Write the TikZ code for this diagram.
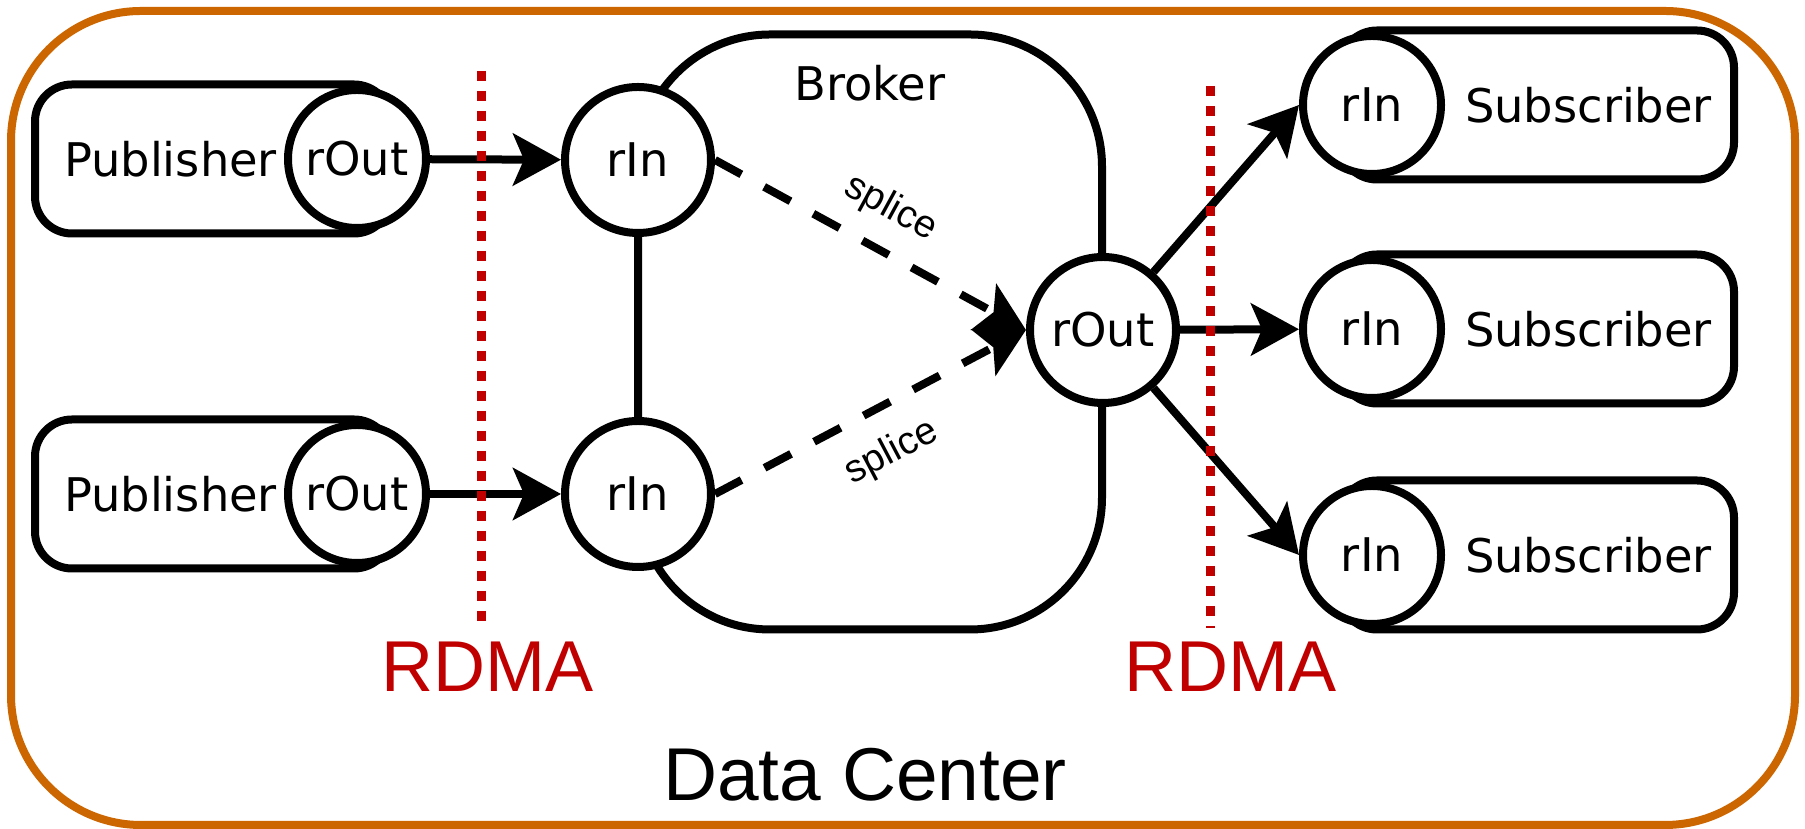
\documentclass[tikz,border=0pt]{standalone}
\usepackage{fontspec}
\setmainfont{DejaVu Sans}
\newfontfamily\arialfont{Liberation Sans}
\usetikzlibrary{positioning,arrows.meta}

\definecolor{dcorange}{HTML}{CC6600}
\definecolor{rdmared}{HTML}{C00000}

\begin{document}
\begin{tikzpicture} [
                x=0.1mm, y=-0.1mm,
                labelfont/.style={
                    font=\fontsize{13.2}{16}\selectfont
                },
                port/.style={
                    circle,
                    draw,
                    line width=0.8mm,
                    fill=white,
                    minimum size=13.8mm,
                    inner sep=0pt,
                    labelfont
                },
                bport/.style={
                    port,
                    minimum size=14.6mm
                },
                endbox/.style={
                    rectangle,
                    draw,
                    line width=0.8mm,
                    rounded corners=3.7mm,
                    minimum height=14.9mm,
                    inner ysep=0pt,
                    labelfont
                },
                link/.style={
                    line width=0.8mm,
                    -{Stealth[length=4.8mm, width=5.2mm, inset=1.1mm]}
                },
                splicelink/.style={
                    link,
                    dash pattern=on 3mm off 2.6mm
                },
                splicelbl/.style={
                    font=\arialfont\fontsize{11}{13}\selectfont
                },
                rdmaline/.style={
                    rdmared,
                    line width=0.9mm,
                    dash pattern=on 1mm off 1mm
                },
                rdmatext/.style={
                    rdmared,
                    font=\arialfont\fontsize{20.5}{24}\selectfont
                }
            ]

                \useasboundingbox (0,0) rectangle (1805,829);

                % data center frame
                \draw[dcorange, line width=0.8mm, rounded corners=13mm] (11,11) rectangle (1795,825);
                \node[font=\arialfont\fontsize{21.3}{25}\selectfont] (dc) at (865,775) {Data Center};

                % broker
                \node[draw, line width=0.8mm, rounded corners=13.2mm, minimum width=46.4mm, minimum height=59.5mm] (broker) at (870,332) {};
                \node[labelfont] (brokerlbl) at ([yshift=-5.3mm]broker.north) {Broker};

                % publishers and subscribers
                \node[endbox, text width=29.8mm, inner xsep=2.9mm, align=left]  (pub1)  at (213,159)    {Publisher};
                \node[endbox, text width=29.8mm, inner xsep=2.9mm, align=left]  (pub2)  at (213,494)    {Publisher};
                \node[endbox, text width=35mm, inner xsep=2.2mm, align=right]   (sub1)  at (1537,105)   {Subscriber};
                \node[endbox, text width=35mm, inner xsep=2.2mm, align=right]   (sub2)  at (1537,329)   {Subscriber};
                \node[endbox, text width=35mm, inner xsep=2.2mm, align=right]   (sub3)  at (1537,555)   {Subscriber};

                \node[port]     (p1out)     at (357,159)    {rOut};
                \node[port]     (p2out)     at (357,494)    {rOut};
                \node[bport]    (in1)       at (638,160)    {rIn};
                \node[bport]    (in2)       at (638,494)    {rIn};
                \node[bport]    (bout)      at (1103,330)   {rOut};
                \node[port]     (s1in)      at (1372,105)   {rIn};
                \node[port]     (s2in)      at (1372,329)   {rIn};
                \node[port]     (s3in)      at (1372,555)   {rIn};

                % connections
                \draw[link] (p1out) -- (in1);
                \draw[link] (p2out) -- (in2);
                \draw[splicelink] (in1.east) -- node[splicelbl, sloped, above=0.8mm] (splice1) {splice} (bout.west);
                \draw[splicelink] (in2.east) -- node[splicelbl, sloped, below=1.2mm] (splice2) {splice} (bout.west);
                \draw[link] (bout) -- (s1in.west);
                \draw[link] (bout) -- (s2in);
                \draw[link] (bout) -- (s3in.west);

                % rdma boundaries
                \draw[rdmaline] (481,71) -- (481,622);
                \draw[rdmaline] (1210,86) -- (1210,628);
                \node[rdmatext] (rdma1) at (488,667)    {RDMA};
                \node[rdmatext] (rdma2) at (1231,667)   {RDMA};

            \end{tikzpicture}
\end{document}
